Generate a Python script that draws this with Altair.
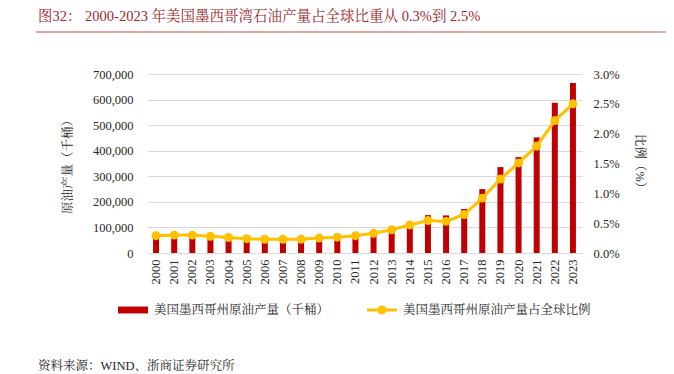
import altair as alt
import pandas as pd

years = [str(y) for y in range(2000, 2024)]
production = [63000, 64000, 62000, 60000, 58000, 56000, 55000, 55000, 56000, 57000,
              61000, 66000, 80000, 95000, 115000, 148000, 147000, 172000, 250000,
              336000, 375000, 452000, 588000, 665000]
share = [0.0029, 0.0030, 0.0030, 0.0028, 0.0026, 0.0024, 0.0023, 0.0023, 0.0023, 0.0025,
         0.00265, 0.0029, 0.0033, 0.0039, 0.0047, 0.00545, 0.0053, 0.00645, 0.0092,
         0.0124, 0.0151, 0.0179, 0.0222, 0.0250]
left_ticks = [0, 100000, 200000, 300000, 400000, 500000, 600000, 700000]
right_ticks = [0, 0.005, 0.01, 0.015, 0.02, 0.025, 0.03]

bar_label = "美国墨西哥州原油产量（千桶）"
line_label = "美国墨西哥州原油产量占全球比例"
left_title = "原油产量（千桶）"
right_title = "比例（%）"
title_text = "图32：  2000-2023 年美国墨西哥湾石油产量占全球比重从 0.3%到 2.5%"
source_text = "资料来源：WIND、浙商证券研究所"

FONT = "Times New Roman, Liberation Serif, Noto Serif CJK SC, Noto Sans CJK SC"
BAR_C = "#C00000"
LINE_C = "#FFC000"
TXT_C = "#262626"
GRID_C = "#d9d9d9"

df = pd.DataFrame({"year": years, "production": production, "share": share,
                   "s_bar": bar_label, "s_line": line_label})

BAR_PATH = "M-1,-0.23L1,-0.23L1,0.23L-1,0.23Z"
LINE_PATH = ("M-1,-0.1L1,-0.1L1,0.1L-1,0.1Z"
             "M-0.3,0A0.3,0.3,0,1,1,0.3,0A0.3,0.3,0,1,1,-0.3,0Z")

x_enc = alt.X("year:O", title=None,
              scale=alt.Scale(paddingInner=0.1, paddingOuter=0.05),
              axis=alt.Axis(labelAngle=270, ticks=False, domainColor=GRID_C,
                            labelPadding=6, labelFontSize=12.5, labelFont=FONT,
                            labelColor=TXT_C))

bars = alt.Chart(df).mark_bar(size=6).encode(
    x=x_enc,
    y=alt.Y("production:Q", scale=alt.Scale(domain=[0, 700000], nice=False),
            axis=alt.Axis(values=left_ticks, format=",.0f", title=left_title,
                          grid=True, gridColor=GRID_C, ticks=False, domain=False,
                          labelPadding=14, labelFont=FONT, labelFontSize=12.5,
                          labelColor=TXT_C, titleFont=FONT, titleFontSize=12.5,
                          titleFontWeight="normal", titleColor=TXT_C, titlePadding=18)),
    color=alt.Color("s_bar:N", scale=alt.Scale(domain=[bar_label], range=[BAR_C]),
                    legend=alt.Legend(title=None, orient="none", legendX=-29, legendY=221,
                                      symbolType=BAR_PATH, symbolSize=900,
                                      symbolStrokeWidth=0, labelFont=FONT,
                                      labelFontSize=12.5, labelColor=TXT_C,
                                      labelOffset=6, padding=0, labelLimit=400)),
)

y_right = alt.Y("share:Q", scale=alt.Scale(domain=[0, 0.03], nice=False),
                axis=alt.Axis(orient="right", values=right_ticks, format=".1%",
                              title=right_title, grid=False, ticks=False, domain=False,
                              labelPadding=11, labelFont=FONT, labelFontSize=12.5,
                              labelColor=TXT_C, titleFont=FONT, titleFontSize=12.5,
                              titleFontWeight="normal", titleColor=TXT_C, titlePadding=13))

line = alt.Chart(df).mark_line(color=LINE_C, strokeWidth=3).encode(x=x_enc, y=y_right)
points = alt.Chart(df).mark_circle(size=80, opacity=1).encode(
    x=x_enc, y=y_right,
    color=alt.Color("s_line:N", scale=alt.Scale(domain=[line_label], range=[LINE_C]),
                    legend=alt.Legend(title=None, orient="none", legendX=220, legendY=221,
                                      symbolType=LINE_PATH, symbolSize=900,
                                      symbolStrokeWidth=0, symbolOpacity=1,
                                      labelFont=FONT, labelFontSize=12.5,
                                      labelColor=TXT_C, labelOffset=6, padding=0,
                                      labelLimit=400)),
)

deco = pd.DataFrame({"title": [title_text], "source": [source_text]})
title_mark = alt.Chart(deco).mark_text(align="left", baseline="middle", font=FONT,
                                       fontSize=14.5, color="#A0282C").encode(
    text="title:N", x=alt.value(-109), y=alt.value(-57))
rule_mark = alt.Chart(deco).mark_rule(color="#D98A8A", strokeWidth=1.5).encode(
    x=alt.value(-111), x2=alt.value(527), y=alt.value(-42))
source_mark = alt.Chart(deco).mark_text(align="left", baseline="middle", font=FONT,
                                        fontSize=12.5, color=TXT_C).encode(
    text="source:N", x=alt.value(-109), y=alt.value(292))

chart = alt.layer(
    bars, alt.layer(line, points), title_mark, rule_mark, source_mark
).resolve_scale(y="independent", color="independent").resolve_legend(
    color="independent"
).properties(
    width=435, height=179,
    autosize=alt.AutoSizeParams(type="none"),
    padding={"left": 139, "top": 66, "right": 84, "bottom": 121},
).configure_view(stroke=None)

chart.save("out.html", embed_options={"renderer": "svg", "actions": False})
